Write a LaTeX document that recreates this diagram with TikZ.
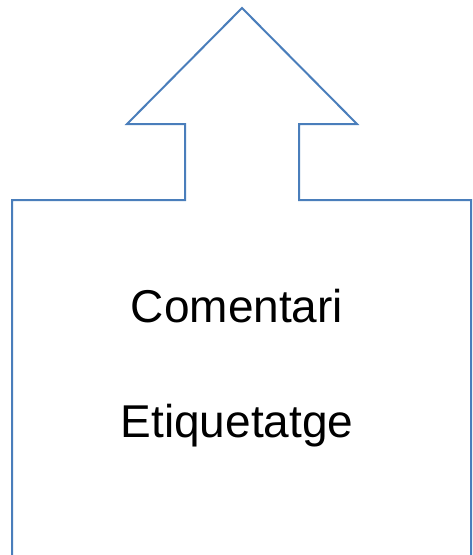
\documentclass[tikz,border=0pt]{standalone}
\usepackage{fontspec}
\setmainfont{Liberation Sans}
\definecolor{lineblue}{HTML}{4A7EBB}
\begin{document}
\begin{tikzpicture}[x=1pt,y=-1pt,
  outline/.style={draw=lineblue,line width=2pt,line join=miter},
  label/.style={anchor=base,inner sep=0pt,font=\fontsize{46}{46}\selectfont}]
\useasboundingbox (0,0) rectangle (472,555);
\draw[outline] (12,556) -- (12,200) -- (185,200) -- (185,124) -- (127,124)
  -- (242,8) -- (357,124) -- (299,124) -- (299,200) -- (471,200) -- (471,556);
\node[label] (comentari) at (237,322) {Comentari};
\node[label] (etiquetatge) at (237,437) {Etiquetatge};
\end{tikzpicture}
\end{document}
